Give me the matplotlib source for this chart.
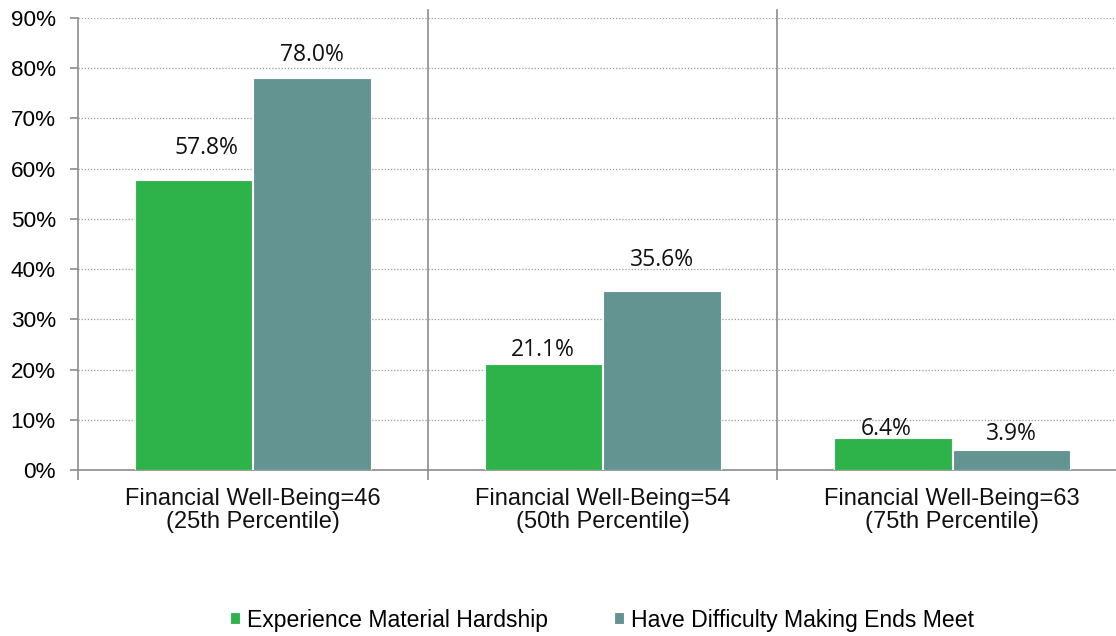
import matplotlib
matplotlib.use("Agg")
import matplotlib.pyplot as plt
import numpy as np

categories = ["Financial Well-Being=46\n(25th Percentile)",
              "Financial Well-Being=54\n(50th Percentile)",
              "Financial Well-Being=63\n(75th Percentile)"]
series_names = ["Experience Material Hardship", "Have Difficulty Making Ends Meet"]
hardship = [57.8, 21.1, 6.4]
ends_meet = [78.0, 35.6, 3.9]
# visual placement of data labels (points), as in the original chart
label_dy_pt = [[18.7, 5.8, 2.2], [12.2, 18.0, 7.2]]
label_dx_pt = [[9.4, 0, -5.0], [0, 0, 0]]

colors = ["#2eb34b", "#639492"]
grey = "#8c8c8c"

fig = plt.figure(figsize=(11.16, 6.36), dpi=100)
ax = fig.add_axes([78/1116, 1-470/636, 1-78/1116 + 0.01, (470-18)/636])

x = np.arange(len(categories))
w = 0.336
series = [hardship, ends_meet]
for i, vals in enumerate(series):
    xs = x + (i - 0.5) * (w + 0.003)
    ax.bar(xs, vals, width=w, color=colors[i], edgecolor="white",
           linewidth=0.8, label=series_names[i], zorder=3)
    for xi, v, dy, dx in zip(xs, vals, label_dy_pt[i], label_dx_pt[i]):
        ax.annotate(f"{v:.1f}%", (xi, v), xytext=(dx, dy), textcoords="offset points",
                    ha="center", va="baseline", fontsize=16.5, family="Open Sans",
                    color="#111111")

ax.set_ylim(0, 90)
ax.set_xlim(-0.5, 2.5)
ax.set_yticks(range(0, 91, 10))
ax.set_yticklabels([f"{t}%" for t in range(0, 91, 10)], fontsize=16.2,
                   family="Liberation Sans")
ax.yaxis.grid(True, linestyle=(0, (1, 1.5)), color="#9a9a9a", linewidth=0.9, zorder=0)

ax.set_xticks([-0.5, 0.5, 1.5, 2.5])
ax.set_xticklabels([])
ax.tick_params(axis="x", length=7, color=grey, width=1.2)
ax.tick_params(axis="y", length=6, color=grey, width=1.2, pad=10)
for xi, c in zip(x, categories):
    ax.text(xi, -3.6, c, ha="center", va="top", fontsize=17,
            family="Liberation Sans", linespacing=1.08, color="#111111")

for s in ["top", "right"]:
    ax.spines[s].set_visible(False)
ax.spines["left"].set_color(grey)
ax.spines["left"].set_linewidth(1.2)
ax.spines["bottom"].set_color(grey)
ax.spines["bottom"].set_linewidth(1.2)

for b in [0.5, 1.5]:
    ax.plot([b, b], [0, 91.6], color=grey, linewidth=1.2, clip_on=False, zorder=4)

fig.legend(loc="center", bbox_to_anchor=(602/1116, 1-620/636), ncol=2, frameon=False,
           prop={"family": "Liberation Sans", "size": 16.6}, handlelength=0.45,
           handleheight=0.45, handletextpad=0.3, columnspacing=2.85)

fig.savefig("out.png", dpi=100)
